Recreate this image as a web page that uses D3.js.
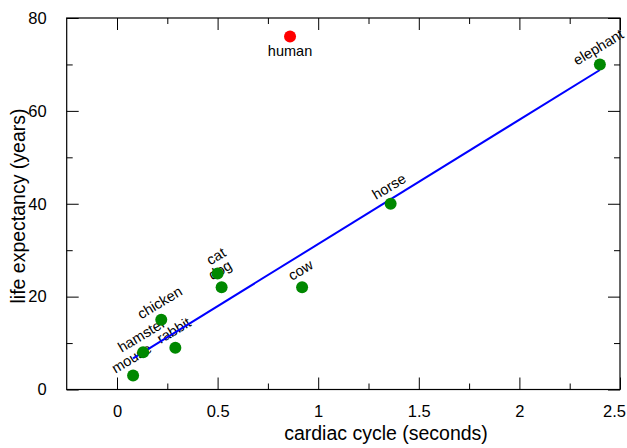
<!DOCTYPE html>
<html>
<head>
<meta charset="utf-8">
<script src="https://cdn.jsdelivr.net/npm/d3@7"></script>
<style>
  body { margin: 0; background: #fff; }
  text { font-family: "Liberation Sans", Arial, Helvetica, sans-serif; fill: #000; }
  .tick text { font-size: 16.5px; }
  .tick line { stroke: #000; }
  .axis path { display: none; }
</style>
</head>
<body>
<svg id="chart" width="627" height="448"></svg>
<script>
// values
const animals   = ["mouse", "hamster", "chicken", "rabbit", "cat", "dog", "cow", "human", "horse", "elephant"];
const cycleSec  = [0.08, 0.13, 0.22, 0.29, 0.50, 0.52, 0.92, 0.86, 1.36, 2.40];
const lifeYears = [3, 8, 15, 9, 25, 22, 22, 76, 40, 70];

// fitted line end points
const fitX = [0.08, 2.40];
const fitY = [6.7, 68.8];

const xMajor = [0, 0.5, 1, 1.5, 2, 2.5];
const xMinor = [0.25, 0.75, 1.25, 1.75, 2.25];
const yMajor = [0, 20, 40, 60, 80];
const yMinor = [10, 30, 50, 70];

const svg = d3.select("#chart");
const plotL = 66.7, plotR = 620, plotT = 18, plotB = 389.5;

const x = d3.scaleLinear().domain([-0.25, 2.5]).range([plotL, plotR]);
const y = d3.scaleLinear().domain([0, 80]).range([plotB, plotT]);

// axes, ticks pointing inwards
let xAxis = svg.append("g").attr("class", "axis")
    .attr("transform", `translate(0,${plotB})`)
    .call(d3.axisBottom(x).tickValues(xMajor).tickSize(-12).tickPadding(16)
        .tickFormat(d3.format("")));
// last label sits against the window edge
xAxis.selectAll(".tick text").filter(d => d === 2.5).attr("dx", -6);

svg.append("g").attr("class", "axis")
    .attr("transform", `translate(0,${plotB})`)
    .call(d3.axisBottom(x).tickValues(xMinor).tickSize(-6).tickFormat(""));
svg.append("g").attr("class", "axis")
    .attr("transform", `translate(0,${plotT})`)
    .call(d3.axisTop(x).tickValues(xMajor).tickSize(-12).tickFormat(""));
svg.append("g").attr("class", "axis")
    .attr("transform", `translate(0,${plotT})`)
    .call(d3.axisTop(x).tickValues(xMinor).tickSize(-6).tickFormat(""));

svg.append("g").attr("class", "axis")
    .attr("transform", `translate(${plotL},0)`)
    .call(d3.axisLeft(y).tickValues(yMajor).tickSize(-12).tickPadding(20));
svg.append("g").attr("class", "axis")
    .attr("transform", `translate(${plotL},0)`)
    .call(d3.axisLeft(y).tickValues(yMinor).tickSize(-6).tickFormat(""));
svg.append("g").attr("class", "axis")
    .attr("transform", `translate(${plotR},0)`)
    .call(d3.axisRight(y).tickValues(yMajor).tickSize(-12).tickFormat(""));
svg.append("g").attr("class", "axis")
    .attr("transform", `translate(${plotR},0)`)
    .call(d3.axisRight(y).tickValues(yMinor).tickSize(-6).tickFormat(""));

// frame
svg.append("rect")
    .attr("x", plotL).attr("y", plotT)
    .attr("width", plotR - plotL).attr("height", plotB - plotT)
    .attr("fill", "none").attr("stroke", "#000").attr("stroke-width", 1.2);

const pts = animals.map((name, i) => ({name: name, cx: cycleSec[i], ly: lifeYears[i]}));

// labels (drawn first, the dots sit on top of them)
svg.selectAll("text.lbl")
    .data(pts)
    .join("text")
    .attr("class", "lbl")
    .attr("text-anchor", "middle")
    .style("font-size", "14.5px")
    .attr("transform", d => d.name === "human"
        ? `translate(${x(d.cx)},${y(d.ly) + 19})`
        : `translate(${x(d.cx) + 1},${y(d.ly) - 13}) rotate(-31)`)
    .text(d => d.name);

// fit line
svg.append("path")
    .datum(fitX.map((d, i) => [d, fitY[i]]))
    .attr("d", d3.line().x(d => x(d[0])).y(d => y(d[1])))
    .attr("fill", "none").attr("stroke", "#0000ff").attr("stroke-width", 2);

svg.selectAll("circle.pt")
    .data(pts)
    .join("circle")
    .attr("class", "pt")
    .attr("cx", d => x(d.cx))
    .attr("cy", d => y(d.ly))
    .attr("r", 6)
    .attr("fill", d => d.name === "human" ? "#ff0000" : "#008800");

// axis titles
svg.append("text")
    .attr("x", 386).attr("y", 440)
    .attr("text-anchor", "middle")
    .style("font-size", "19.5px")
    .text("cardiac cycle (seconds)");

svg.append("text")
    .attr("transform", "translate(25,206) rotate(-90)")
    .attr("text-anchor", "middle")
    .style("font-size", "19.5px")
    .text("life expectancy (years)");
</script>
</body>
</html>
